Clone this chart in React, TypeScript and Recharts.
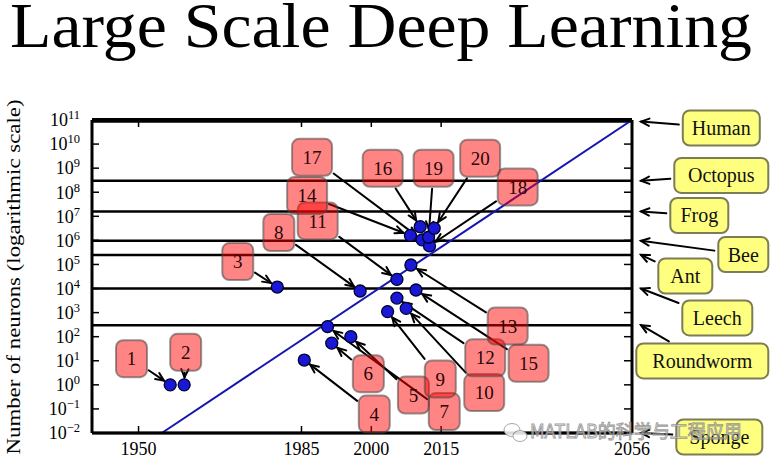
import React from "react";
import { ComposedChart, Scatter, XAxis, YAxis, ReferenceLine } from "recharts";

const SERIF = "'Liberation Serif', 'DejaVu Serif', serif";

// numbered networks
const modelIds = [1, 2, 3, 4, 5, 6, 7, 8, 9, 10, 11, 12, 13, 14, 15, 16, 17, 18, 19, 20];
const modelYears = [
  1956.8, 1959.8, 1979.8, 1985.6, 1995.6, 1991.5, 1990.6, 1997.6, 2003.5, 2007.5,
  2005.5, 2005.5, 2008.5, 2008.4, 2009.6, 2010.5, 2010.9, 2012.5, 2012.3, 2013.5,
];
const modelNeurons = [
  1, 1, 1.15e4, 10.7, 100, 54, 263, 7900, 1100, 1500,
  24000, 4000, 95000, 1.6e6, 8700, 3.7e6, 1.05e6, 5.9e5, 1.35e6, 3.2e6,
];

// biological reference levels
const organismNames = ["Human", "Octopus", "Frog", "Bee", "Ant", "Leech", "Roundworm", "Sponge"];
const organismNeurons = [8.6e10, 3e8, 1.6e7, 9.6e5, 2.5e5, 1e4, 302, 0.01];

// axes
const yearDomain = [1940, 2056];
const yearTicks = [1950, 1985, 2000, 2015, 2056];
const powerTicks = [-2, -1, 0, 1, 2, 3, 4, 5, 6, 7, 8, 9, 10, 11];
const neuronTicks = powerTicks.map((k) => Math.pow(10, k));
const neuronDomain = [1e-2, 1e11];

// extrapolated trend (end points)
const trendYears = [1955, 2056];
const trendNeurons = [1e-2, 1e11];

// label placement in pixels, relative to the point it annotates
const modelLabelOffsets = [
  [-38.7, -26.2], [1.5, -32.5], [-39.5, -25.5], [70, 54], [62.6, 58.3],
  [36.6, 30.5], [116.7, 85], [-81.3, -58.5], [52.7, 67.3], [78, 84.2],
  [-79.2, -58.5], [88.3, 59.7], [96.8, 61], [-103.3, -39.9], [112.6, 73.3],
  [-37.5, -58.4], [-110, -82.5], [88.2, -59], [5, -69], [46, -70],
];
// dx, dy, box width
const organismLabelLayout = [
  [89.3, 6.4, 77], [89.3, -5.3, 94], [67.3, 4.1, 58], [111.3, 13.7, 50],
  [53.3, 21.1, 54], [85.3, 29.4, 70], [70.3, 35.8, 132], [87.3, 4, 86],
];

const modelData = modelIds.map((id, i) => ({ id, year: modelYears[i], neurons: modelNeurons[i] }));
const organismData = organismNames.map((name, i) => ({
  idx: i,
  name,
  year: yearDomain[1],
  neurons: organismNeurons[i],
}));

const BOX_H = 37;
const DOT_R = 6;

function edgePoint(cx: number, cy: number, hw: number, hh: number, tx: number, ty: number, gap: number) {
  const dx = tx - cx;
  const dy = ty - cy;
  const t = Math.min(dx ? hw / Math.abs(dx) : Infinity, dy ? hh / Math.abs(dy) : Infinity);
  const len = Math.hypot(dx, dy) || 1;
  return { x: cx + dx * t + (dx / len) * gap, y: cy + dy * t + (dy / len) * gap };
}

function Arrow({ x1, y1, x2, y2 }: { x1: number; y1: number; x2: number; y2: number }) {
  const ang = Math.atan2(y2 - y1, x2 - x1);
  const h = 9;
  const a = 0.42;
  const p1 = `${x2 - h * Math.cos(ang - a)},${y2 - h * Math.sin(ang - a)}`;
  const p2 = `${x2 - h * Math.cos(ang + a)},${y2 - h * Math.sin(ang + a)}`;
  return (
    <g stroke="#000" strokeWidth={2} fill="none" strokeLinecap="round">
      <line x1={x1} y1={y1} x2={x2} y2={y2} />
      <polyline points={`${p1} ${x2},${y2} ${p2}`} />
    </g>
  );
}

function ModelArrow(p: any) {
  const { cx, cy, payload } = p;
  const [dx, dy] = modelLabelOffsets[payload.id - 1];
  const lx = cx + dx;
  const ly = cy + dy;
  const w = payload.id >= 10 ? 40 : 31;
  const start = edgePoint(lx, ly, w / 2, BOX_H / 2, cx, cy, 2);
  const len = Math.hypot(cx - lx, cy - ly);
  const ex = cx - ((cx - lx) / len) * (DOT_R + 1.5);
  const ey = cy - ((cy - ly) / len) * (DOT_R + 1.5);
  return <Arrow x1={start.x} y1={start.y} x2={ex} y2={ey} />;
}

function ModelDot(p: any) {
  return <circle cx={p.cx} cy={p.cy} r={DOT_R} fill="#1818d6" stroke="#00002a" strokeWidth={1.3} />;
}

function ModelLabel(p: any) {
  const { cx, cy, payload } = p;
  const [dx, dy] = modelLabelOffsets[payload.id - 1];
  const w = payload.id >= 10 ? 40 : 31;
  const lx = cx + dx;
  const ly = cy + dy;
  return (
    <g>
      <rect
        x={lx - w / 2}
        y={ly - BOX_H / 2}
        width={w}
        height={BOX_H}
        rx={7}
        fill="rgba(255,0,0,0.48)"
        stroke="rgba(70,70,70,0.55)"
        strokeWidth={2}
      />
      <text x={lx} y={ly} dy="0.35em" textAnchor="middle" fontFamily={SERIF} fontSize={19} fill="#2a0505">
        {payload.id}
      </text>
    </g>
  );
}

function OrganismLabel(p: any) {
  const { cx, cy, payload } = p;
  const [dx, dy, w] = organismLabelLayout[payload.idx];
  const lx = cx + dx;
  const ly = cy + dy;
  const tx = cx + 9;
  const start = edgePoint(lx, ly, w / 2, 17.5, tx, cy, 4);
  return (
    <g>
      <Arrow x1={start.x} y1={start.y} x2={tx} y2={cy} />
      <rect
        x={lx - w / 2}
        y={ly - 17.5}
        width={w}
        height={35}
        rx={7}
        fill="rgba(255,255,0,0.5)"
        stroke="#7d7d55"
        strokeWidth={2}
      />
      <text x={lx} y={ly} dy="0.35em" textAnchor="middle" fontFamily={SERIF} fontSize={20} fill="#111">
        {payload.name}
      </text>
    </g>
  );
}

function PowerTick(p: any) {
  const k = Math.round(Math.log10(p.payload.value));
  return (
    <text x={p.x} y={p.y} dy="0.35em" textAnchor="end" fontFamily={SERIF} fontSize={18} fill="#000">
      <tspan>10</tspan>
      <tspan dy={-7} fontSize={12.5}>
        {k < 0 ? `\u2212${-k}` : k}
      </tspan>
    </text>
  );
}

function YearTick(p: any) {
  return (
    <text x={p.x} y={p.y} dy="0.35em" textAnchor="middle" fontFamily={SERIF} fontSize={18} fill="#000">
      {p.payload.value}
    </text>
  );
}

const NoTick = () => <g />;

export default function App() {
  return (
    <div style={{ position: "absolute", left: 0, top: 0, width: 774, height: 466, background: "#fff" }}>
      <ComposedChart width={774} height={466} margin={{ top: 119, right: 141, bottom: 0, left: 0 }}>
        <XAxis
          dataKey="year"
          type="number"
          domain={yearDomain}
          ticks={yearTicks}
          interval={0}
          height={33}
          tickSize={-7}
          tickMargin={23}
          tick={<YearTick />}
          axisLine={{ stroke: "#000", strokeWidth: 3 }}
          tickLine={{ stroke: "#000", strokeWidth: 1.5 }}
        />
        <XAxis
          xAxisId="top"
          orientation="top"
          dataKey="year"
          type="number"
          domain={yearDomain}
          allowDataOverflow
          ticks={yearTicks}
          interval={0}
          height={1}
          tickSize={-7}
          tick={<NoTick />}
          axisLine={{ stroke: "#000", strokeWidth: 4 }}
          tickLine={{ stroke: "#000", strokeWidth: 1.5 }}
        />
        <YAxis
          dataKey="neurons"
          scale="log"
          type="number"
          domain={neuronDomain}
          ticks={neuronTicks}
          interval={0}
          width={92}
          tickSize={-7}
          tickMargin={19}
          tick={<PowerTick />}
          axisLine={{ stroke: "#000", strokeWidth: 3 }}
          tickLine={{ stroke: "#000", strokeWidth: 1.5 }}
        />
        <YAxis
          yAxisId="right"
          orientation="right"
          dataKey="neurons"
          scale="log"
          type="number"
          domain={neuronDomain}
          allowDataOverflow
          ticks={neuronTicks}
          interval={0}
          width={1}
          tickSize={-8}
          tick={<NoTick />}
          axisLine={{ stroke: "#000", strokeWidth: 3 }}
          tickLine={{ stroke: "#000", strokeWidth: 1.5 }}
        />
        {organismNeurons.map((v, i) => (
          <ReferenceLine key={organismNames[i]} y={v} stroke="#000" strokeWidth={2.5} />
        ))}
        <ReferenceLine
          segment={[
            { x: trendYears[0], y: trendNeurons[0] },
            { x: trendYears[1], y: trendNeurons[1] },
          ]}
          stroke="#1515b0"
          strokeWidth={2}
        />
        <Scatter data={modelData} isAnimationActive={false} shape={(p: any) => <ModelArrow {...p} />} />
        <Scatter data={modelData} isAnimationActive={false} shape={(p: any) => <ModelDot {...p} />} />
        <Scatter data={modelData} isAnimationActive={false} shape={(p: any) => <ModelLabel {...p} />} />
        <Scatter data={organismData} isAnimationActive={false} shape={(p: any) => <OrganismLabel {...p} />} />
      </ComposedChart>
      <svg
        width={774}
        height={466}
        style={{ position: "absolute", left: 0, top: 0, pointerEvents: "none" }}
      >
        <text
          x={10}
          y={47}
          fontFamily={SERIF}
          fontSize={63}
          textLength={742}
          lengthAdjust="spacingAndGlyphs"
          fill="#000"
        >
          Large Scale Deep Learning
        </text>
        <text
          transform="translate(20,277) rotate(-90)"
          textAnchor="middle"
          fontFamily={SERIF}
          fontSize={19}
          textLength={355}
          lengthAdjust="spacingAndGlyphs"
          fill="#000"
        >
          Number of neurons (logarithmic scale)
        </text>
        <g opacity={0.85}>
          <ellipse cx={512} cy={430} rx={8} ry={6.5} fill="#fff" stroke="#999" strokeWidth={1} />
          <ellipse cx={520} cy={436} rx={7} ry={5.5} fill="#fff" stroke="#999" strokeWidth={1} />
          <text
            x={530}
            y={438}
            fontFamily="'Noto Sans CJK SC', 'Noto Sans', sans-serif"
            fontSize={18}
            fill="rgba(255,255,255,0.85)"
            stroke="#8a8a8a"
            strokeWidth={0.9}
          >
            MATLAB的科学与工程应用
          </text>
        </g>
      </svg>
    </div>
  );
}
